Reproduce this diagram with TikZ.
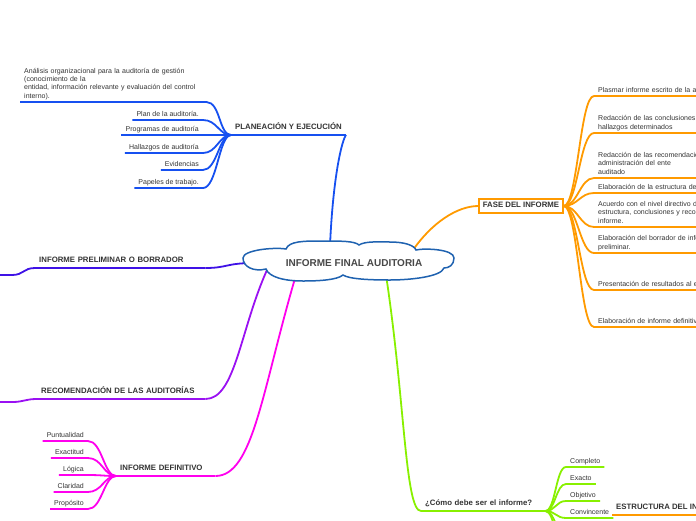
\documentclass[tikz,border=0pt]{standalone}
\usepackage{fontspec}
\setmainfont{Liberation Sans}
\usepackage{tikz}
\usetikzlibrary{shapes}
\usetikzlibrary{backgrounds}
\usetikzlibrary{calc}
\usetikzlibrary{positioning}

\definecolor{txtgray}{HTML}{333333}
\definecolor{titlegray}{HTML}{484848}
\definecolor{cloudblue}{HTML}{1F62B0}
\definecolor{planblue}{HTML}{1650F0}
\definecolor{prelimblue}{HTML}{3F12E6}
\definecolor{recomviolet}{HTML}{9A10F2}
\definecolor{definmagenta}{HTML}{FF00EE}
\definecolor{faseorange}{HTML}{FF9A00}
\definecolor{comogreen}{HTML}{88F000}

\tikzset{
  branch/.style={line width=1.8pt},
  sub/.style={font=\fontsize{7}{8.3}\selectfont, text=txtgray, inner xsep=4pt, inner ysep=2pt,
    execute at end node={\rule[-1.6pt]{0pt}{1pt}}},
  topic/.style={font=\fontsize{7.8}{9.4}\selectfont\bfseries, text=txtgray, inner xsep=4pt, inner ysep=4pt,
    execute at end node={\rule[-1.6pt]{0pt}{1pt}}},
}

\begin{document}
\begin{tikzpicture}[x=1pt, y=-1pt, >=latex]
\useasboundingbox (0,0) rectangle (696,520);

%Centro
\coordinate (centro) at (349,261);
\draw[cloudblue, line width=1.5pt, fill=white, shift={(centro)}]
  (-83,8) .. controls (-95,11) and (-106,6) .. (-106,-3)
  .. controls (-106,-11) and (-75,-14) .. (-63,-12)
  .. controls (-60,-20) and (-45,-20) .. (-27,-20)
  .. controls (-8,-20) and (6,-20) .. (10,-16)
  .. controls (16,-20) and (30,-19) .. (41,-19)
  .. controls (55,-19) and (65,-16) .. (67,-11)
  .. controls (75,-13) and (105,-12) .. (105,-3)
  .. controls (105,4) and (100,7) .. (95,7)
  .. controls (92,16) and (60,19) .. (41,19)
  .. controls (20,19) and (0,18) .. (-6,14)
  .. controls (-12,19) and (-30,20) .. (-46,20)
  .. controls (-65,20) and (-80,16) .. (-83,8) -- cycle;
\node[font=\fontsize{10}{12}\selectfont\bfseries, text=titlegray] (titulo) at ($(centro)+(5,2)$) {INFORME FINAL AUDITORIA};

%Planeacion y ejecucion
\node[topic, anchor=south west] (planea) at (231,135) {PLANEACIÓN Y EJECUCIÓN};
\node[sub, anchor=south west, text width=178pt, align=left] (analisis) at (20,102)
  {Análisis organizacional para la auditoría de gestión\\(conocimiento de la\\entidad, información relevante y evaluación del control\\interno).};
\foreach \nm/\y/\txt in {plan/120/Plan de la auditoría., progr/135/Programas de auditoría,
    hallaz/153/Hallazgos de auditoría, evid/170/Evidencias, papel/188/Papeles de trabajo.}
  \node[sub, anchor=south east] (\nm) at (203,\y) {\txt};
\foreach \nm in {analisis,plan,progr,hallaz,evid,papel}
  \draw[branch, planblue] (\nm.south west) -- (\nm.south east) .. controls +(14,0) and +(-12,0) .. (planea.south west);
\draw[branch, planblue] (planea.south west) -- (planea.south east);

%Preliminar
\node[topic, anchor=south west, text width=162pt, align=left] (prelim) at (35,268) {INFORME PRELIMINAR O BORRADOR};
\coordinate (prelimsub) at (12,275);
\draw[branch, prelimblue] (prelim.south east) -- (prelim.south west) .. controls +(-12,0) and +(12,0) .. (prelimsub) -- +(-30,0);

%Recomendacion
\node[topic, anchor=south west, text width=160pt, align=left] (recom) at (37,399) {RECOMENDACIÓN DE LAS AUDITORÍAS};
\coordinate (recomsub) at (12,402);
\draw[branch, recomviolet] (recom.south east) -- (recom.south west) .. controls +(-12,0) and +(12,0) .. (recomsub) -- +(-30,0);

%Definitivo
\node[topic, anchor=south west, text width=91pt, align=left] (defin) at (116,476) {INFORME DEFINITIVO};
\foreach \nm/\y/\txt in {puntual/441/Puntualidad, exact/458/Exactitud, logica/475/Lógica,
    clarid/492/Claridad, propos/509/Propósito}
  \node[sub, anchor=south east] (\nm) at (88,\y) {\txt};
\foreach \nm in {puntual,exact,logica,clarid,propos}
  \draw[branch, definmagenta] (\nm.south west) -- (\nm.south east) .. controls +(14,0) and +(-12,0) .. (defin.south west);
\draw[branch, definmagenta] (defin.south west) -- (defin.south east);

%Fase del informe
\node[topic, draw=faseorange, line width=1.8pt, inner xsep=3.6pt, inner ysep=3.5pt] (fase) at (521,206) {FASE DEL INFORME};
\node[sub, anchor=south west, text width=170pt, align=left] (plasmar) at (594,96) {Plasmar informe escrito de la actividad};
\node[sub, anchor=south west, text width=170pt, align=left] (conclus) at (594,133) {Redacción de las conclusiones de los\\hallazgos determinados};
\node[sub, anchor=south west, text width=170pt, align=left] (recomen) at (594,178) {Redacción de las recomendaciones a la\\administración del ente\\auditado};
\node[sub, anchor=south west, text width=170pt, align=left] (estruc) at (594,193) {Elaboración de la estructura del informe};
\node[sub, anchor=south west, text width=170pt, align=left] (acuerdo) at (594,227) {Acuerdo con el nivel directivo de la\\estructura, conclusiones y recomendaciones del\\informe.};
\node[sub, anchor=south west, text width=170pt, align=left] (borrador) at (594,253) {Elaboración del borrador de informe\\preliminar.};
\node[sub, anchor=south west, text width=170pt, align=left] (present) at (594,290) {Presentación de resultados al ente};
\node[sub, anchor=south west, text width=170pt, align=left] (definit) at (594,327) {Elaboración de informe definitivo};
\foreach \nm in {plasmar,conclus,recomen,estruc,acuerdo,borrador,present,definit}
  \draw[branch, faseorange] (fase.east) .. controls +(14,0) and +(-14,0) .. (\nm.south west) -- (\nm.south east);

%Como debe ser
\node[topic, anchor=south west, text width=116pt, align=left] (como) at (421,511) {¿Cómo debe ser el informe?};
\foreach \nm/\y/\txt in {compl/467/Completo, exacto/484/Exacto, objet/501/Objetivo, convin/518/Convincente}
  \node[sub, anchor=south west] (\nm) at (566,\y) {\txt};
\coordinate (comosub1) at (566,536);
\coordinate (comosub2) at (566,553);
\foreach \nm in {compl,exacto,objet,convin}
  \draw[branch, comogreen] (como.south east) .. controls +(10,0) and +(-10,0) .. (\nm.south west) -- (\nm.south east);
\foreach \nm in {comosub1,comosub2}
  \draw[branch, comogreen] (como.south east) .. controls +(10,0) and +(-10,0) .. (\nm);
\draw[branch, comogreen] (como.south west) -- (como.south east);

%Estructura
\node[topic, anchor=south west] (estruct) at (612,515) {ESTRUCTURA DEL INFORME};
\draw[branch, faseorange] (estruct.south west) -- (estruct.south east);

%Ramas
\begin{scope}[on background layer]
  \draw[branch, planblue] ($(centro)+(-19,-15)$) .. controls +(3,-70) and +(-4,5) .. (planea.south east);
  \draw[branch, faseorange] ($(centro)+(64,-11)$) .. controls +(18,-26) and +(-22,0) .. (fase.west);
  \draw[branch, prelimblue] ($(centro)+(-95,2)$) .. controls +(-28,0) and +(22,0) .. (prelim.south east);
  \draw[branch, recomviolet] ($(centro)+(-82,9)$) .. controls +(-27,60) and +(30,0) .. (recom.south east);
  \draw[branch, definmagenta] ($(centro)+(-53,14)$) .. controls +(-34,115) and +(38,0) .. (defin.south east);
  \draw[branch, comogreen] ($(centro)+(37,14)$) .. controls +(19,125) and +(-16,0) .. (como.south west);
\end{scope}
\end{tikzpicture}
\end{document}
